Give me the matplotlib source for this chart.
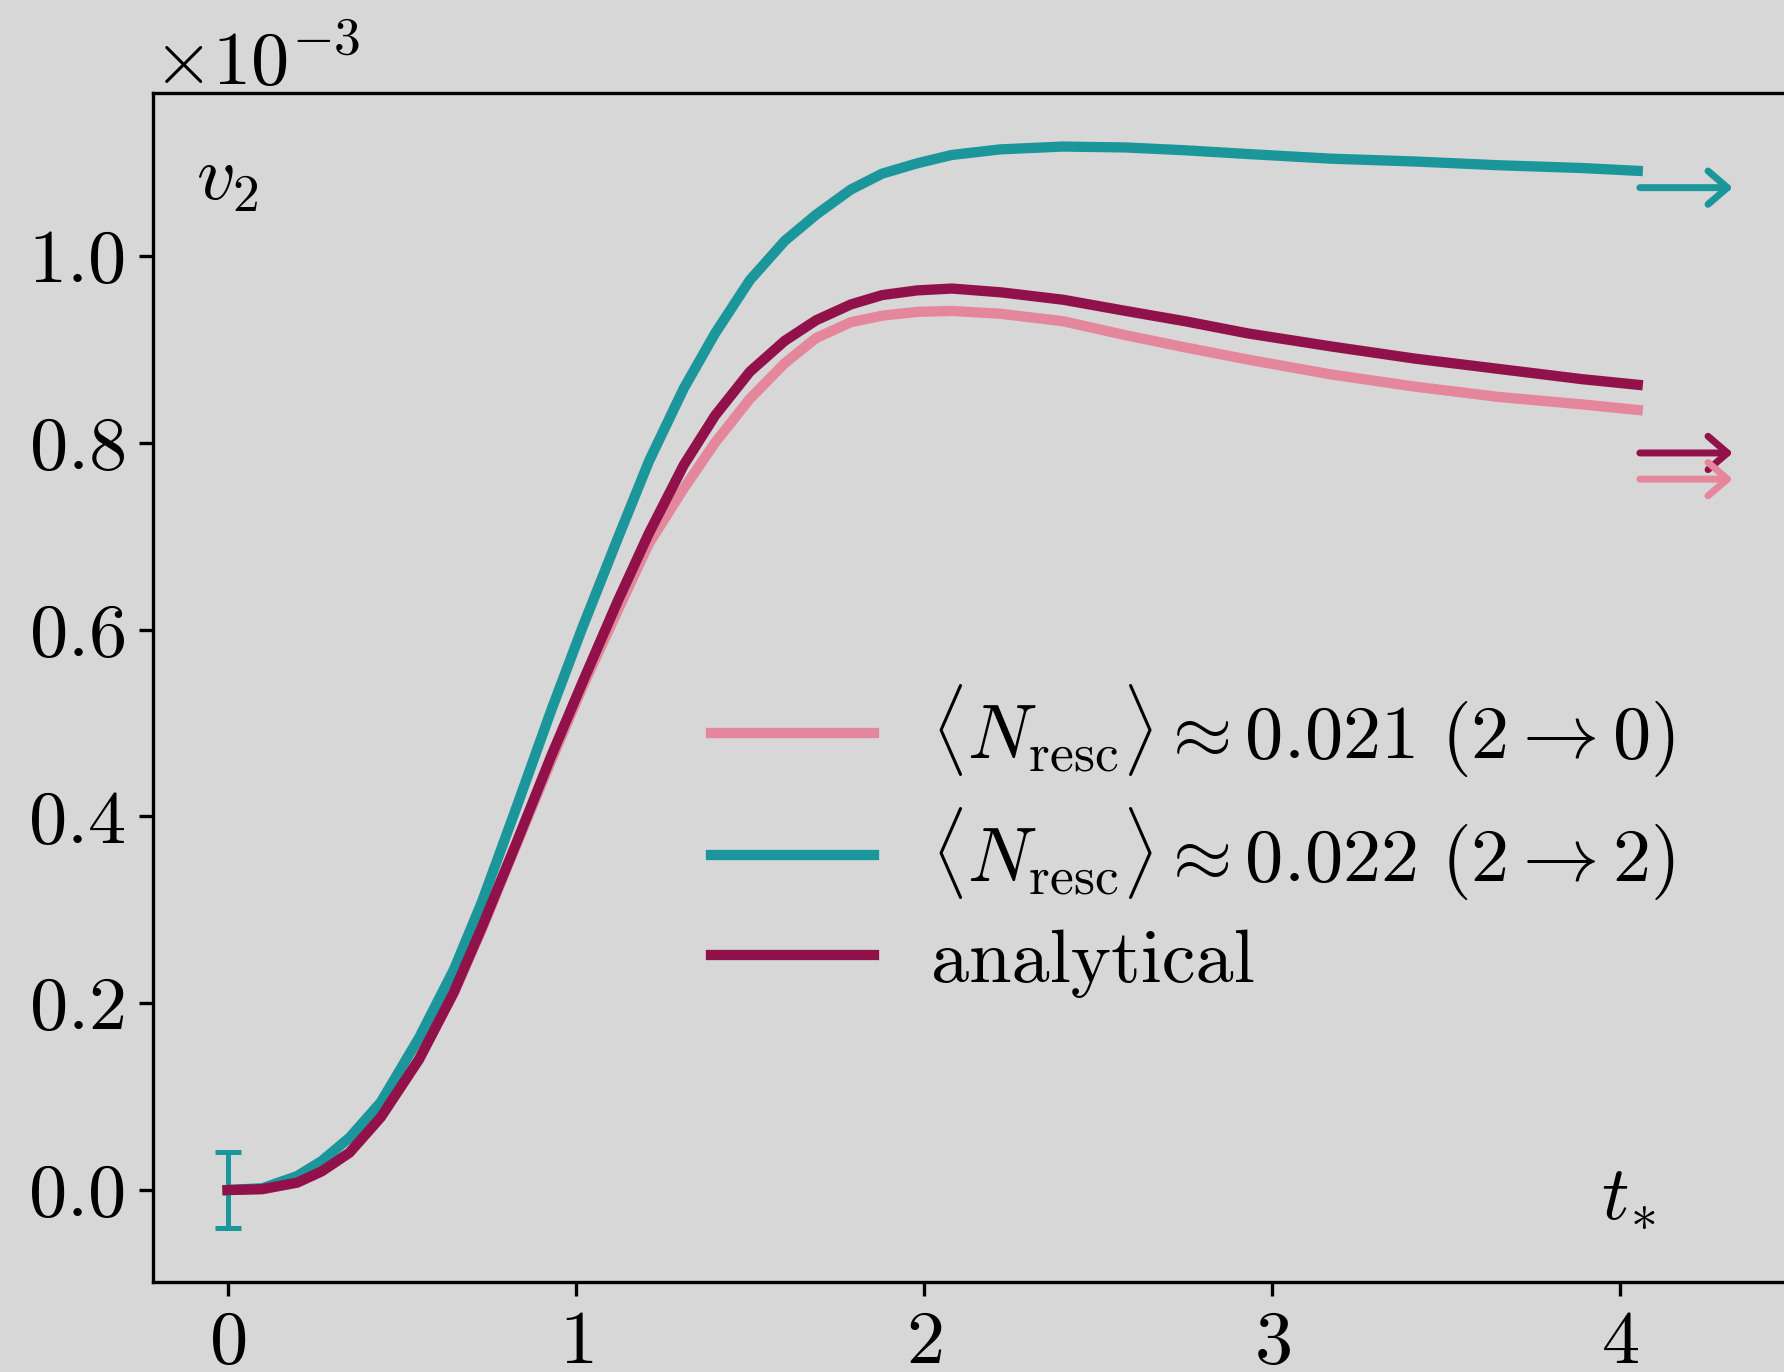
import matplotlib
matplotlib.use("Agg")
import matplotlib.pyplot as plt
import numpy as np

plt.rcParams['font.family'] = 'serif'
plt.rcParams['font.serif'] = ['cmr10']
plt.rcParams['mathtext.fontset'] = 'cm'
plt.rcParams['axes.unicode_minus'] = False
plt.rcParams['axes.formatter.use_mathtext'] = True

# ---- data (v2 in units of 1e-3) ----
t = [0.0, 0.1, 0.2, 0.27, 0.35, 0.44, 0.55, 0.65, 0.73, 0.83, 0.93, 1.02, 1.12,
     1.21, 1.31, 1.40, 1.50, 1.60, 1.69, 1.79, 1.88, 1.98, 2.08, 2.22, 2.40,
     2.58, 2.75, 2.93, 3.17, 3.41, 3.65, 3.89, 4.05]
v2_20 = [0.0, 0.001, 0.008, 0.020, 0.040, 0.078, 0.140, 0.211, 0.279, 0.370, 0.460,
         0.539, 0.620, 0.692, 0.751, 0.800, 0.847, 0.885, 0.912, 0.929, 0.936, 0.940,
         0.941, 0.938, 0.930, 0.915, 0.902, 0.889, 0.873, 0.860, 0.849, 0.841, 0.835]
v2_22 = [0.0, 0.002, 0.015, 0.031, 0.056, 0.094, 0.163, 0.236, 0.308, 0.410, 0.514,
         0.603, 0.697, 0.780, 0.858, 0.917, 0.974, 1.016, 1.044, 1.071, 1.088, 1.099,
         1.108, 1.114, 1.117, 1.116, 1.113, 1.109, 1.104, 1.101, 1.097, 1.094, 1.091]
v2_an = [0.0, 0.001, 0.008, 0.020, 0.040, 0.078, 0.140, 0.212, 0.281, 0.372, 0.465,
         0.544, 0.630, 0.703, 0.776, 0.829, 0.876, 0.909, 0.931, 0.948, 0.958, 0.963,
         0.965, 0.961, 0.953, 0.941, 0.930, 0.917, 0.903, 0.890, 0.879, 0.868, 0.862]
err0 = 0.041  # error bar at t=0 for (2->2)
asym = {'20': 0.761, '22': 1.073, 'an': 0.789}  # asymptotic values (arrows)
labels = [r'$\langle N_{\rm resc}\rangle \approx 0.021\ (2\to 0)$',
          r'$\langle N_{\rm resc}\rangle \approx 0.022\ (2\to 2)$',
          'analytical']
xticks = [0, 1, 2, 3, 4]
yticks = [0.0, 0.2, 0.4, 0.6, 0.8, 1.0]

c_pink = '#e5879c'
c_teal = '#1b979b'
c_mag = '#91124b'
bg = '#d7d7d7'

fs = 27.5
fig = plt.figure(figsize=(8.92, 6.86), dpi=200, facecolor=bg)
ax = fig.add_axes([0.0856, 0.0654, 0.9144, 0.8666], facecolor=bg)

scale = 1e-3
ta = np.array(t)
lw = 3.7
ax.plot(ta, np.array(v2_20) * scale, color=c_pink, lw=lw, label=labels[0], zorder=2)
ax.plot(ta, np.array(v2_22) * scale, color=c_teal, lw=lw, label=labels[1], zorder=3)
ax.errorbar([t[0]], [v2_22[0] * scale], yerr=[err0 * scale], color=c_teal,
            lw=1.8, capsize=4.7, capthick=1.8, fmt='none', zorder=3)
ax.plot(ta, np.array(v2_an) * scale, color=c_mag, lw=lw, label=labels[2], zorder=4)

for key, col in (('22', c_teal), ('an', c_mag), ('20', c_pink)):
    y = asym[key] * scale
    ax.annotate('', xy=(4.323, y), xytext=(4.056, y),
                arrowprops=dict(arrowstyle='->,head_length=0.35,head_width=0.3',
                                color=col, lw=2.5, capstyle='round',
                                mutation_scale=20, shrinkA=0, shrinkB=0))

ax.set_xlim(-0.215, 4.47)
ax.set_ylim(-0.0987e-3, 1.174e-3)
ax.set_xticks(xticks)
ax.set_yticks([v * scale for v in yticks])
ax.ticklabel_format(axis='y', style='sci', scilimits=(0, 0), useMathText=True)
ax.tick_params(labelsize=fs, length=5, width=1.2, direction='out', pad=5)
ax.yaxis.get_offset_text().set_fontsize(fs)
for s in ['left', 'bottom', 'top']:
    ax.spines[s].set_linewidth(1.2)
ax.spines['right'].set_visible(False)

ax.text(0.0266, 0.911, r'$v_2$', transform=ax.transAxes, fontsize=fs, va='baseline', ha='left')
ax.text(0.888, 0.0552, r'$t_{\!*}$', transform=ax.transAxes, fontsize=fs, va='baseline', ha='left')

ax.legend(loc='upper left', bbox_to_anchor=(0.30, 0.562), frameon=False,
          fontsize=fs, handlelength=2.13, handletextpad=0.75, labelspacing=0.33)

fig.savefig('out.png', dpi=200, facecolor=bg)
